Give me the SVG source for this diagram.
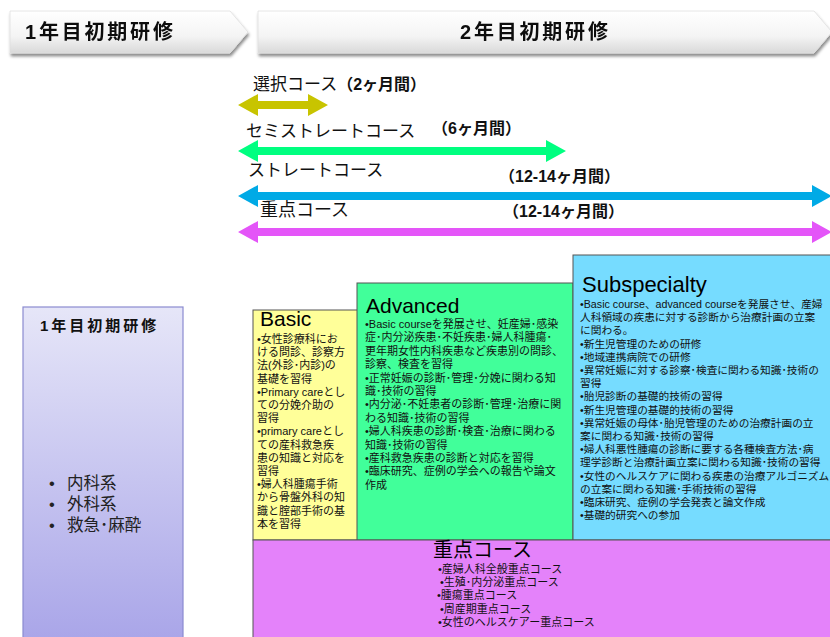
<svg xmlns="http://www.w3.org/2000/svg" width="830" height="637" viewBox="0 0 830 637">
<defs>
<linearGradient id="chev" x1="0" y1="0" x2="0" y2="1">
<stop offset="0" stop-color="#ffffff"/>
<stop offset="0.6" stop-color="#f4f4f4"/>
<stop offset="1" stop-color="#d9d9d9"/>
</linearGradient>
<linearGradient id="lav" x1="0" y1="0" x2="0" y2="1">
<stop offset="0" stop-color="#e6e6f8"/>
<stop offset="1" stop-color="#a8a4e8"/>
</linearGradient>
<filter id="sh" x="-5%" y="-20%" width="110%" height="160%">
<feDropShadow dx="1" dy="3" stdDeviation="1.5" flood-color="#000" flood-opacity="0.45"/>
</filter>
<style>
.jp{font-family:"Liberation Sans","Noto Sans CJK JP",sans-serif;}
.hdr{font-size:20px;font-weight:bold;letter-spacing:2.8px;fill:#111;}
.lbl{font-size:17px;fill:#111;}
.dur{font-size:16px;font-weight:bold;fill:#111;}
.ttl{font-size:22px;fill:#000;}
.body{font-size:11px;fill:#111;}
.box{stroke:#555;stroke-width:1;}
</style>
</defs>
<rect width="830" height="637" fill="#fff"/>

<g id="header-year1" filter="url(#sh)">
<polygon points="10,11 230,11 248,32 230,53 10,53" fill="url(#chev)" stroke="#e0e0e0" stroke-width="0.8"/>
<text class="jp hdr" x="25" y="39">1年目初期研修</text>
</g>
<g id="header-year2" filter="url(#sh)">
<polygon points="258,11 814,11 832,32 814,53 258,53" fill="url(#chev)" stroke="#e0e0e0" stroke-width="0.8"/>
<text class="jp hdr" x="460" y="39">2年目初期研修</text>
</g>

<g id="connectors">
<polygon id="arrow-select" fill="#c8c400" points="238,105 258,94 258,101 308,101 308,94 328,105 308,116 308,109 258,109 258,116"/>
<polygon id="arrow-semi" fill="#00ff80" points="238,151 258,140 258,147 546,147 546,140 566,151 546,162 546,155 258,155 258,162"/>
<polygon id="arrow-straight" fill="#00aae6" points="238,196 258,185 258,192 812,192 812,185 832,196 812,207 812,200 258,200 258,207"/>
<polygon id="arrow-focus" fill="#e455f8" points="238,232 258,221 258,228 812,228 812,221 832,232 812,243 812,236 258,236 258,243"/>
</g>

<g id="label-select">
<text class="jp lbl" x="253" y="90">選択コース<tspan class="dur">（2ヶ月間）</tspan></text>
</g>
<g id="label-semi">
<text class="jp lbl" x="246" y="137">セミストレートコース</text>
<text class="jp dur" x="432" y="134">（6ヶ月間）</text>
</g>
<g id="label-straight">
<text class="jp lbl" x="248" y="176">ストレートコース</text>
<text class="jp dur" x="499" y="182">（12-14ヶ月間）</text>
</g>
<g id="label-focus">
<text class="jp lbl" x="260" y="216" style="font-size:18px">重点コース</text>
<text class="jp dur" x="503" y="217">（12-14ヶ月間）</text>
</g>

<g id="year1-box">
<rect x="23" y="307" width="160" height="340" fill="url(#lav)" stroke="#8b8bd0" stroke-width="1.2"/>
<text class="jp" x="40" y="331" style="font-size:15px;font-weight:bold;letter-spacing:3px;fill:#111">1年目初期研修</text>
<g class="jp" style="font-size:16.5px;fill:#222">
<text x="49" y="489">•</text><text x="67" y="489">内科系</text>
<text x="49" y="510">•</text><text x="67" y="510">外科系</text>
<text x="49" y="531">•</text><text x="67" y="531">救急･麻酔</text>
</g>
</g>

<g id="basic">
<rect class="box" x="253" y="310" width="107" height="230" fill="#ffff99"/>
<text class="jp ttl" x="260" y="326" style="font-size:21px">Basic</text>
<text class="jp body" x="257" y="343">
<tspan x="257">•女性診療科にお</tspan>
<tspan x="257" dy="13.2">ける問診、診察方</tspan>
<tspan x="257" dy="13.2">法(外診･内診)の</tspan>
<tspan x="257" dy="13.2">基礎を習得</tspan>
<tspan x="257" dy="13.2">•Primary careとし</tspan>
<tspan x="257" dy="13.2">ての分娩介助の</tspan>
<tspan x="257" dy="13.2">習得</tspan>
<tspan x="257" dy="13.2">•primary careとし</tspan>
<tspan x="257" dy="13.2">ての産科救急疾</tspan>
<tspan x="257" dy="13.2">患の知識と対応を</tspan>
<tspan x="257" dy="13.2">習得</tspan>
<tspan x="257" dy="13.2">•婦人科腫瘍手術</tspan>
<tspan x="257" dy="13.2">から骨盤外科の知</tspan>
<tspan x="257" dy="13.2">識と腟部手術の基</tspan>
<tspan x="257" dy="13.2">本を習得</tspan>
</text>
</g>

<g id="advanced">
<rect class="box" x="357" y="283" width="216" height="257" fill="#41ff9a"/>
<text class="jp ttl" x="366" y="313" style="font-size:21px">Advanced</text>
<text class="jp body" x="365" y="328">
<tspan x="365">•Basic courseを発展させ、妊産婦･感染</tspan>
<tspan x="365" dy="13.4">症･内分泌疾患･不妊疾患･婦人科腫瘍･</tspan>
<tspan x="365" dy="13.4">更年期女性内科疾患など疾患別の問診、</tspan>
<tspan x="365" dy="13.4">診察、検査を習得</tspan>
<tspan x="365" dy="13.4">•正常妊娠の診断･管理･分娩に関わる知</tspan>
<tspan x="365" dy="13.4">識･技術の習得</tspan>
<tspan x="365" dy="13.4">•内分泌･不妊患者の診断･管理･治療に関</tspan>
<tspan x="365" dy="13.4">わる知識･技術の習得</tspan>
<tspan x="365" dy="13.4">•婦人科疾患の診断･検査･治療に関わる</tspan>
<tspan x="365" dy="13.4">知識･技術の習得</tspan>
<tspan x="365" dy="13.4">•産科救急疾患の診断と対応を習得</tspan>
<tspan x="365" dy="13.4">•臨床研究、症例の学会への報告や論文</tspan>
<tspan x="365" dy="13.4">作成</tspan>
</text>
</g>

<g id="subspecialty">
<rect class="box" x="573" y="255" width="262" height="285" fill="#76dcff"/>
<text class="jp ttl" x="582" y="292">Subspecialty</text>
<text class="jp body" x="580" y="308" style="font-size:10.7px">
<tspan x="580">•Basic course、advanced courseを発展させ、産婦</tspan>
<tspan x="580" dy="13.2">人科領域の疾患に対する診断から治療計画の立案</tspan>
<tspan x="580" dy="13.2">に関わる。</tspan>
<tspan x="580" dy="13.2">•新生児管理のための研修</tspan>
<tspan x="580" dy="13.2">•地域連携病院での研修</tspan>
<tspan x="580" dy="13.2">•異常妊娠に対する診察･検査に関わる知識･技術の</tspan>
<tspan x="580" dy="13.2">習得</tspan>
<tspan x="580" dy="13.2">•胎児診断の基礎的技術の習得</tspan>
<tspan x="580" dy="13.2">•新生児管理の基礎的技術の習得</tspan>
<tspan x="580" dy="13.2">•異常妊娠の母体･胎児管理のための治療計画の立</tspan>
<tspan x="580" dy="13.2">案に関わる知識･技術の習得</tspan>
<tspan x="580" dy="13.2">•婦人科悪性腫瘍の診断に要する各種検査方法･病</tspan>
<tspan x="580" dy="13.2">理学診断と治療計画立案に関わる知識･技術の習得</tspan>
<tspan x="580" dy="13.2">•女性のヘルスケアに関わる疾患の治療アルゴニズム</tspan>
<tspan x="580" dy="13.2">の立案に関わる知識･手術技術の習得</tspan>
<tspan x="580" dy="13.2">•臨床研究、症例の学会発表と論文作成</tspan>
<tspan x="580" dy="13.2">•基礎的研究への参加</tspan>
</text>
</g>

<g id="focus-course">
<rect class="box" x="253" y="540" width="582" height="110" fill="#e482fa"/>
<text class="jp" x="433" y="557" style="font-size:20px;fill:#000">重点コース</text>
<text class="jp body" x="438" y="573">
<tspan x="438">•産婦人科全般重点コース</tspan>
<tspan x="440" dy="13.2">•生殖･内分泌重点コース</tspan>
<tspan x="437" dy="13.2">•腫瘍重点コース</tspan>
<tspan x="440" dy="13.2">•周産期重点コース</tspan>
<tspan x="438" dy="13.2">•女性のヘルスケアー重点コース</tspan>
</text>
</g>
</svg>
